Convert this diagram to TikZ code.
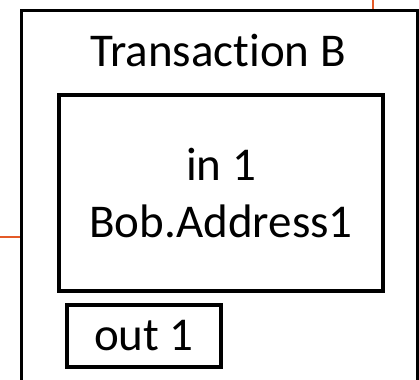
\documentclass[tikz,border=0pt]{standalone}
\usepackage{fontspec}
\setmainfont[Ligatures=NoCommon]{Carlito}
\usetikzlibrary{positioning}
\definecolor{LinkO}{RGB}{228,90,40}

\begin{document}
\begin{tikzpicture}[x=1pt,y=-1pt,
    box/.style={draw,line width=3.3pt,inner sep=0pt},
    link/.style={draw=LinkO,line width=2.8pt},
    font=\fontsize{47}{57}\selectfont]
  \useasboundingbox (0,0) rectangle (419,379);
  % transaction frame, runs past the bottom edge
  \node[box,minimum width=396pt,minimum height=400pt,anchor=north west] (txB) at (20,9) {};
  \node[anchor=base] (txtitle) at (218,67) {Transaction B};
  \node[box,minimum width=324pt,minimum height=196pt,align=center] (in1) at (221,193) {in 1\\Bob.Address1};
  \node[box,minimum width=154pt,minimum height=62pt] (out1) at (144,336) {out 1};
  % links coming in from outside
  \coordinate (srcL) at (0,237);
  \coordinate (srcT) at (373,0);
  \draw[link] (srcL) -- (srcL -| txB.west);
  \draw[link] (srcT) -- (srcT |- txB.north);
\end{tikzpicture}
\end{document}
